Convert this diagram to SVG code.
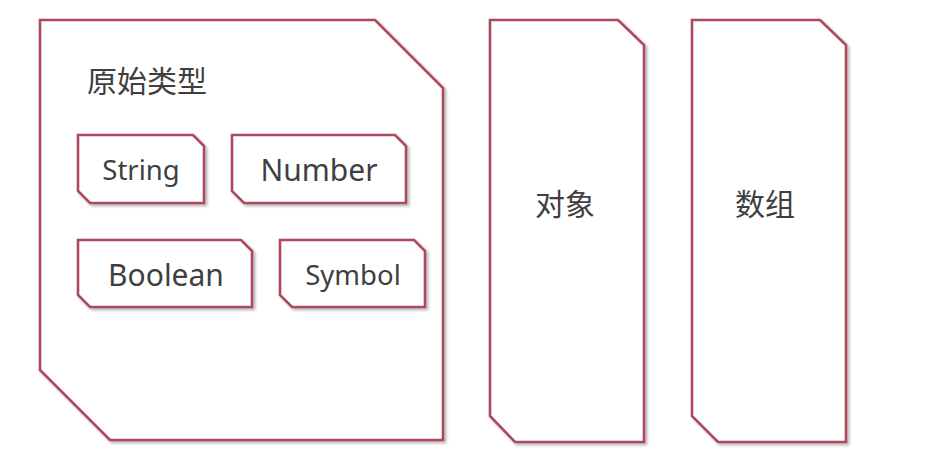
<svg xmlns="http://www.w3.org/2000/svg" width="935" height="466" viewBox="0 0 935 466">
<defs>
<filter id="sh" x="-10%" y="-10%" width="130%" height="130%">
<feGaussianBlur in="SourceAlpha" stdDeviation="1.5"/>
<feOffset dx="2" dy="2" result="b"/>
<feComponentTransfer><feFuncA type="linear" slope="0.3"/></feComponentTransfer>
<feMerge><feMergeNode/><feMergeNode in="SourceGraphic"/></feMerge>
</filter>
</defs>
<style>
.box{fill:#ffffff;stroke:#ac4a5c;stroke-width:2.6;stroke-linejoin:miter;filter:url(#sh)}
.t{font-family:"Noto Sans","Open Sans","Noto Sans CJK SC",sans-serif;fill:#3f3f3f;text-anchor:middle}
.c{font-family:"Noto Sans CJK SC","Noto Sans",sans-serif;fill:#3f3f3f}
</style>
<rect width="935" height="466" fill="#ffffff"/>
<g id="primitive">
<path class="box" d="M40,20 L375,20 L443,88 L443,440 L110,440 L40,370 Z"/>
<text class="c" x="87" y="92" font-size="30">原始类型</text>
</g>
<g id="string">
<path class="box" d="M78,135 L193,135 L204,146 L204,203 L90,203 L78,191 Z"/>
<text class="t" x="141" y="180" font-size="27.5">String</text>
</g>
<g id="number">
<path class="box" d="M232,135 L395,135 L406,146 L406,203 L244,203 L232,191 Z"/>
<text class="t" x="319" y="181" font-size="30">Number</text>
</g>
<g id="boolean">
<path class="box" d="M78,240 L241,240 L252,251 L252,307 L90,307 L78,295 Z"/>
<text class="t" x="166" y="286" font-size="30">Boolean</text>
</g>
<g id="symbol">
<path class="box" d="M280,240 L414,240 L425,251 L425,307 L292,307 L280,295 Z"/>
<text class="t" x="353" y="285" font-size="27.5">Symbol</text>
</g>
<g id="object">
<path class="box" d="M490,20 L618,20 L644,45 L644,442 L515,442 L490,416 Z"/>
<text class="c" x="565" y="215" font-size="30" text-anchor="middle">对象</text>
</g>
<g id="array">
<path class="box" d="M692,20 L820,20 L846,45 L846,442 L718,442 L692,416 Z"/>
<text class="c" x="765" y="215" font-size="30" text-anchor="middle">数组</text>
</g>
<g id="connectors"></g>
</svg>
